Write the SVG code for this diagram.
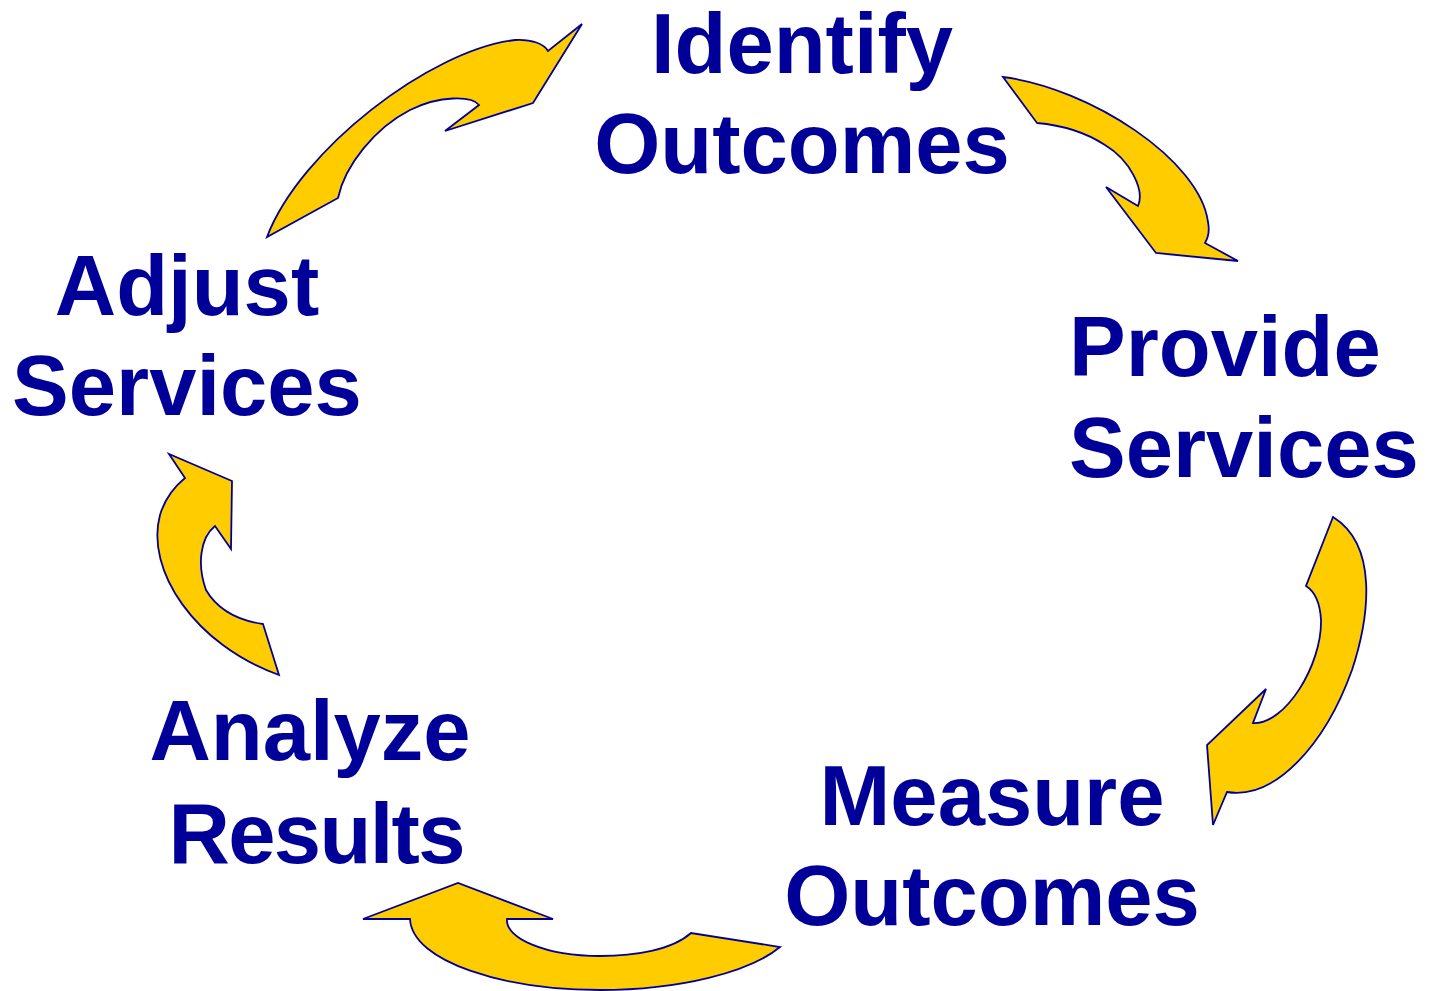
<svg xmlns="http://www.w3.org/2000/svg" width="1429" height="991" viewBox="0 0 1429 991">
<style>
.lbl{font-family:"Liberation Sans",Arial,sans-serif;font-weight:bold;font-size:85px;fill:#000099}
.arr{fill:#FFCC00;stroke:#000099;stroke-width:1.8;stroke-linejoin:miter}
</style>
<rect width="1429" height="991" fill="#ffffff"/>
<g id="connectors">
<path id="a1" class="arr" d="M 267 237 C 300 150, 430 50, 515 40 C 532 39, 544 44, 548 51 L 582 24 L 533 103 L 445 131 L 479 105 C 472 96, 440 95, 410 110 C 375 128, 345 165, 338 198 Z"/>
<path id="a2" class="arr" d="M 1003 77 C 1090 88, 1200 160, 1208 222 C 1210 232, 1208 238, 1205 243 L 1238 261 L 1156 253 L 1106 187 L 1138 206 C 1145 190, 1130 160, 1105 145 C 1085 132, 1060 125, 1037 123 Z"/>
<path id="a3" class="arr" d="M 1333 517 C 1378 545, 1370 615, 1352 670 C 1325 745, 1275 800, 1227 792 L 1213 825 L 1207 745 L 1266 689 L 1253 723 C 1285 725, 1322 665, 1321 620 C 1320 602, 1314 591, 1306 586 Z"/>
<path id="a4" class="arr" d="M 410 919 C 412 962, 505 990, 600 990 C 680 990, 750 972, 780 947 L 691 933 C 672 950, 635 956, 600 956 C 545 956, 505 938, 507 919 L 553 919 L 458 883 L 363 919 Z"/>
<path id="a5" class="arr" d="M 279 675 C 195 645, 145 570, 160 515 C 165 498, 174 487, 185 478 L 169 454 L 232 481 L 231 549 L 215 526 C 200 538, 197 565, 206 590 C 216 607, 235 620, 263 624 Z"/>
</g>
<g id="identify"><text class="lbl" x="802" y="73" text-anchor="middle">Identify</text><text class="lbl" x="802" y="173" text-anchor="middle">Outcomes</text></g>
<g id="provide"><text class="lbl" x="1069" y="376">Provide</text><text class="lbl" x="1069" y="477">Services</text></g>
<g id="measure"><text class="lbl" x="992" y="825" text-anchor="middle">Measure</text><text class="lbl" x="992" y="925" text-anchor="middle">Outcomes</text></g>
<g id="analyze"><text class="lbl" x="310" y="760" text-anchor="middle">Analyze</text><text class="lbl" x="317" y="863" text-anchor="middle" textLength="297" lengthAdjust="spacing">Results</text></g>
<g id="adjust"><text class="lbl" x="187" y="315" text-anchor="middle">Adjust</text><text class="lbl" x="187" y="415" text-anchor="middle">Services</text></g>
</svg>
